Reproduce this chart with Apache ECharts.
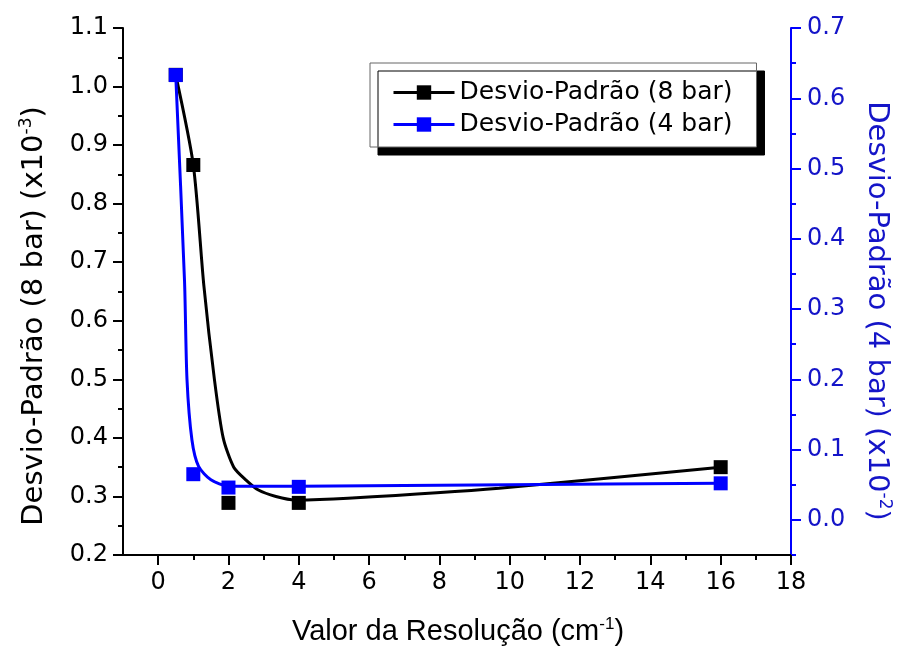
<!DOCTYPE html>
<html>
<head>
<meta charset="utf-8">
<script src="https://cdn.jsdelivr.net/npm/echarts@6/dist/echarts.min.js"></script>
<style>
html,body{margin:0;padding:0;background:#fff;}
#chart{width:901px;height:661px;}
</style>
</head>
<body>
<div id="chart"></div>
<script>
// ---- data ----
const seriesNames = ['Desvio-Padrão (8 bar)', 'Desvio-Padrão (4 bar)'];
// measured points
const x8 = [0.5, 1, 2, 4, 16];
const y8 = [1.02, 0.866, 0.289, 0.289, 0.350];
const x4 = [0.5, 1, 2, 4, 16];
const y4 = [0.633, 0.065, 0.046, 0.047, 0.052];
// fitted (smoothed) curves
const fitX8 = [0.5, 1.0, 1.3, 1.6, 1.85, 2.15, 2.5, 2.85, 3.35, 3.9, 5.4, 9.7, 16];
const fitY8 = [1.02, 0.866, 0.66, 0.50, 0.40, 0.35, 0.328, 0.311, 0.300, 0.294, 0.297, 0.314, 0.350];
const fitX4 = [0.5, 0.75, 0.82, 0.96, 1.15, 1.5, 2, 4, 10, 16];
const fitY4 = [0.633, 0.34, 0.20, 0.114, 0.076, 0.057, 0.048, 0.048, 0.050, 0.052];
// axis ticks
const xMajor = [0, 2, 4, 6, 8, 10, 12, 14, 16, 18];
const xMinor = [1, 3, 5, 7, 9, 11, 13, 15, 17];
const yRightMajor = [0, 0.1, 0.2, 0.3, 0.4, 0.5, 0.6, 0.7];
const yRightMinor = [-0.05, 0.05, 0.15, 0.25, 0.35, 0.45, 0.55, 0.65];

const BLUE = '#0000ff';
const BLUE_TXT = '#1414c8';
const zip = (a, b) => a.map((v, i) => [v, b[i]]);

const chart = echarts.init(document.getElementById('chart'), null, {renderer: 'canvas'});
const tickFont = {fontFamily: 'DejaVu Sans', fontSize: 24};

const option = {
  animation: false,
  backgroundColor: '#fff',
  grid: {left: 123, right: 110, top: 28, bottom: 106, containLabel: false},
  legend: {
    data: seriesNames,
    orient: 'vertical',
    left: 370, top: 63,
    padding: [17, 24, 10, 22],
    itemGap: 7,
    itemWidth: 61, itemHeight: 18,
    backgroundColor: '#fff',
    borderColor: '#666', borderWidth: 1,
    shadowColor: '#000', shadowBlur: 0, shadowOffsetX: 8, shadowOffsetY: 8,
    lineStyle: {width: 3},
    textStyle: {fontFamily: 'DejaVu Sans', fontSize: 25, color: '#000'}
  },
  xAxis: [{
    type: 'value', min: -1, max: 18,
    axisLine: {show: true, onZero: false, lineStyle: {color: '#000', width: 2}},
    axisTick: {show: true, customValues: xMajor, length: 10, inside: false, lineStyle: {color: '#000', width: 2}},
    axisLabel: {show: true, customValues: xMajor, margin: 16, color: '#000', ...tickFont},
    splitLine: {show: false}
  }, {
    type: 'value', min: -1, max: 18, position: 'bottom', offset: 0,
    axisLine: {show: false, onZero: false},
    axisTick: {show: true, customValues: xMinor, length: 5, lineStyle: {color: '#000', width: 2}},
    axisLabel: {show: false},
    splitLine: {show: false}
  }],
  yAxis: [{
    type: 'value', min: 0.2, max: 1.1, interval: 0.1, position: 'left',
    axisLine: {show: true, onZero: false, lineStyle: {color: '#000', width: 2}},
    axisTick: {show: true, length: 10, lineStyle: {color: '#000', width: 2}},
    minorTick: {show: true, splitNumber: 2, length: 5, lineStyle: {color: '#000', width: 2}},
    axisLabel: {margin: 15, color: '#000', formatter: v => v.toFixed(1), ...tickFont},
    splitLine: {show: false}
  }, {
    type: 'value', min: -0.05, max: 0.7, position: 'right',
    axisLine: {show: true, onZero: false, lineStyle: {color: BLUE, width: 2}},
    axisTick: {show: true, customValues: yRightMajor, length: 10, lineStyle: {color: BLUE, width: 2}},
    axisLabel: {customValues: yRightMajor, margin: 16, color: BLUE_TXT, formatter: v => v.toFixed(1), ...tickFont},
    splitLine: {show: false}
  }, {
    type: 'value', min: -0.05, max: 0.7, position: 'right', offset: 0,
    axisLine: {show: false, onZero: false},
    axisTick: {show: true, customValues: yRightMinor, length: 5, lineStyle: {color: BLUE, width: 2}},
    axisLabel: {show: false},
    splitLine: {show: false}
  }],
  series: [{
    name: seriesNames[0], type: 'line', xAxisIndex: 0, yAxisIndex: 0,
    data: zip(fitX8, fitY8), smooth: 0.25, showSymbol: false,
    symbol: 'rect', symbolSize: 14,
    lineStyle: {color: '#000', width: 3}, itemStyle: {color: '#000'}, z: 2
  }, {
    name: seriesNames[1], type: 'line', xAxisIndex: 0, yAxisIndex: 1,
    data: zip(fitX4, fitY4), smooth: 0.25, showSymbol: false,
    symbol: 'rect', symbolSize: 14,
    lineStyle: {color: BLUE, width: 3}, itemStyle: {color: BLUE}, z: 3
  }, {
    name: seriesNames[0], type: 'scatter', xAxisIndex: 0, yAxisIndex: 0,
    data: zip(x8, y8), symbol: 'rect', symbolSize: 14,
    itemStyle: {color: '#000', opacity: 1}, z: 4
  }, {
    name: seriesNames[1], type: 'scatter', xAxisIndex: 0, yAxisIndex: 1,
    data: zip(x4, y4), symbol: 'rect', symbolSize: 14,
    itemStyle: {color: BLUE, opacity: 1}, z: 5
  }],
  graphic: [{
    type: 'text', x: 34, y: 316, rotation: Math.PI / 2,
    style: {
      text: '{m|Desvio-Padrão (8 bar) (x10}{s|-3}{m|)}',
      align: 'center', verticalAlign: 'middle',
      rich: {
        m: {fontFamily: 'DejaVu Sans', fontSize: 29, fill: '#000', color: '#000'},
        s: {fontFamily: 'DejaVu Sans', fontSize: 17, fill: '#000', color: '#000', padding: [0, 0, 14, 0]}
      }
    }
  }, {
    type: 'text', x: 877, y: 311, rotation: -Math.PI / 2,
    style: {
      text: '{m|Desvio-Padrão (4 bar) (x10}{s|-2}{m|)}',
      align: 'center', verticalAlign: 'middle',
      rich: {
        m: {fontFamily: 'DejaVu Sans', fontSize: 29, fill: BLUE_TXT, color: BLUE_TXT},
        s: {fontFamily: 'DejaVu Sans', fontSize: 17, fill: BLUE_TXT, color: BLUE_TXT, padding: [0, 0, 14, 0]}
      }
    }
  }, {
    type: 'text', x: 458, y: 632,
    style: {
      text: '{m|Valor da Resolução (cm}{s|-1}{m|)}',
      align: 'center', verticalAlign: 'middle',
      rich: {
        m: {fontFamily: 'Liberation Sans', fontSize: 29, fill: '#000', color: '#000'},
        s: {fontFamily: 'Liberation Sans', fontSize: 17, fill: '#000', color: '#000', padding: [0, 0, 16, 0]}
      }
    }
  }]
};
chart.setOption(option);
</script>
</body>
</html>
